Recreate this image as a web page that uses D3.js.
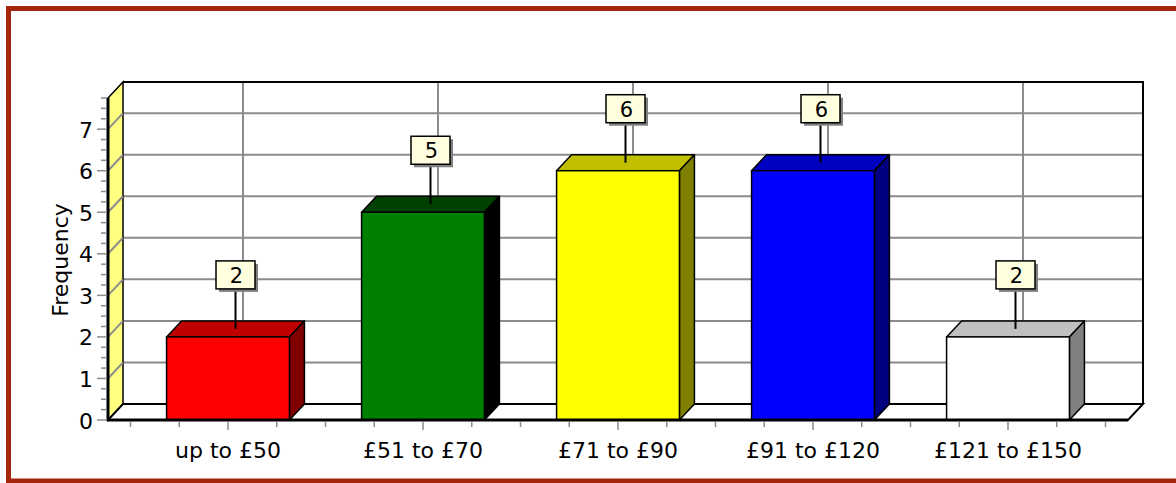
<!DOCTYPE html>
<html>
<head>
<meta charset="utf-8">
<script src="https://cdn.jsdelivr.net/npm/d3@7"></script>
<style>
  html, body { margin: 0; padding: 0; background: #fff; }
  svg { display: block; font-family: "DejaVu Sans", Verdana, sans-serif; }
</style>
</head>
<body>
<svg id="chart" width="1176" height="483"></svg>
<script>
// Price bands and how many items fall in each
const categories = ["up to £50", "£51 to £70", "£71 to £90", "£91 to £120", "£121 to £150"];
const frequencies = [2, 5, 6, 6, 2];
const frontColors = ["#ff0000", "#008000", "#ffff00", "#0000ff", "#ffffff"];
const topColors   = ["#c00000", "#004000", "#c0c000", "#0000c0", "#c0c0c0"];
const sideColors  = ["#800000", "#000000", "#808000", "#000080", "#808080"];
const yTicks = [0, 1, 2, 3, 4, 5, 6, 7];
const yMax = 7.75;
const yLabel = "Frequency";

(function draw() {
  const svg = d3.select("#chart");

  // Outer frame
  svg.append("rect")
    .attr("x", 8.5).attr("y", 8.5).attr("width", 1200).attr("height", 472.5)
    .attr("fill", "none").attr("stroke", "#a5250f").attr("stroke-width", 5);

  // Plot geometry (front plane) and 3D depth offset
  const pLeft = 108, pRight = 1128, pBottom = 420, pTop = 98;
  const dx = 15, dy = 16;

  const y = d3.scaleLinear().domain([0, yMax]).range([pBottom, pTop]);
  const x = d3.scalePoint().domain(categories).range([pLeft + 22.5, pRight - 22.5]).padding(0.5);
  const step = x.step();
  const barW = step * 0.63;

  const g = svg.append("g");
  const gray = "#8c8c8c";

  // Back wall
  g.append("rect")
    .attr("x", pLeft + dx).attr("y", pTop - dy)
    .attr("width", pRight - pLeft).attr("height", pBottom - pTop)
    .attr("fill", "#fff");

  // Horizontal grid on back wall
  g.selectAll(".hgrid").data(yTicks.filter(v => v > 0)).join("line")
    .attr("x1", pLeft + dx).attr("x2", pRight + dx)
    .attr("y1", d => y(d) - dy).attr("y2", d => y(d) - dy)
    .attr("stroke", gray).attr("stroke-width", 2);

  // Vertical grid on back wall at category centres
  g.selectAll(".vgrid").data(categories).join("line")
    .attr("x1", d => x(d) + dx).attr("x2", d => x(d) + dx)
    .attr("y1", pTop - dy).attr("y2", pBottom - dy)
    .attr("stroke", gray).attr("stroke-width", 2);

  // Back wall top and right edges
  g.append("path")
    .attr("d", `M${pLeft + dx},${pTop - dy}H${pRight + dx}V${pBottom - dy}`)
    .attr("fill", "none").attr("stroke", "#000").attr("stroke-width", 2);

  // Left side wall
  g.append("path")
    .attr("d", `M${pLeft},${pBottom}L${pLeft + dx},${pBottom - dy}V${pTop - dy}L${pLeft},${pTop}Z`)
    .attr("fill", "#ffff80").attr("stroke", "#000").attr("stroke-width", 1.5);

  // Diagonal grid on left wall
  g.selectAll(".dgrid").data(yTicks.filter(v => v > 0)).join("line")
    .attr("x1", pLeft).attr("y1", d => y(d))
    .attr("x2", pLeft + dx).attr("y2", d => y(d) - dy)
    .attr("stroke", gray).attr("stroke-width", 2);

  // Floor
  g.append("path")
    .attr("d", `M${pLeft},${pBottom}H${pRight}L${pRight + dx},${pBottom - dy}H${pLeft + dx}Z`)
    .attr("fill", "#fff").attr("stroke", "#000").attr("stroke-width", 2);

  // Bars
  const bars = g.selectAll(".bar").data(categories).join("g");
  bars.each(function (c, i) {
    const b = d3.select(this);
    const x0 = x(c) - barW / 2, x1 = x(c) + barW / 2;
    const yt = y(frequencies[i]), yb = y(0);
    b.append("path")
      .attr("d", `M${x0},${yt}L${x0 + dx},${yt - dy}H${x1 + dx}L${x1},${yt}Z`)
      .attr("fill", topColors[i]).attr("stroke", "#000").attr("stroke-width", 1.5).attr("stroke-linejoin", "round");
    b.append("path")
      .attr("d", `M${x1},${yt}L${x1 + dx},${yt - dy}V${yb - dy}L${x1},${yb}Z`)
      .attr("fill", sideColors[i]).attr("stroke", "#000").attr("stroke-width", 1.5).attr("stroke-linejoin", "round");
    b.append("rect")
      .attr("x", x0).attr("y", yt).attr("width", barW).attr("height", yb - yt)
      .attr("fill", frontColors[i]).attr("stroke", "#000").attr("stroke-width", 1.5);
  });

  // Front axis lines
  g.append("line").attr("x1", pLeft - 1).attr("x2", pRight).attr("y1", pBottom).attr("y2", pBottom)
    .attr("stroke", "#000").attr("stroke-width", 3);
  g.append("line").attr("x1", pLeft).attr("x2", pLeft).attr("y1", pTop).attr("y2", pBottom)
    .attr("stroke", "#000").attr("stroke-width", 3);

  // Y axis ticks (major every 1, minor every 0.25)
  const minorY = d3.range(0, yMax + 0.001, 0.25);
  g.selectAll(".ytick").data(minorY).join("line")
    .attr("x1", d => Number.isInteger(d) ? pLeft - 11 : pLeft - 7).attr("x2", pLeft - 1)
    .attr("y1", d => y(d)).attr("y2", d => y(d))
    .attr("stroke", gray).attr("stroke-width", 1.5);

  g.selectAll(".ylab").data(yTicks).join("text")
    .attr("x", 93).attr("y", d => y(d) + 1)
    .attr("text-anchor", "end").attr("dominant-baseline", "central")
    .attr("font-size", 22).attr("fill", "#000")
    .text(d => d);

  // X axis ticks: quarter-step marks, longer at category centres
  const xTickPos = d3.range(0, 21).map(k => ({ pos: x(categories[0]) - step / 2 + k * step / 4, major: k % 4 === 2 }));
  g.selectAll(".xtick").data(xTickPos).join("line")
    .attr("x1", d => d.pos).attr("x2", d => d.pos)
    .attr("y1", pBottom + 2).attr("y2", d => d.major ? pBottom + 10 : pBottom + 7)
    .attr("stroke", gray).attr("stroke-width", 1.5);

  g.selectAll(".xlab").data(categories).join("text")
    .attr("x", d => x(d)).attr("y", 458)
    .attr("text-anchor", "middle").attr("font-size", 22).attr("fill", "#000")
    .text(d => d);

  // Y axis title
  g.append("text")
    .attr("transform", "translate(68,260) rotate(-90)")
    .attr("text-anchor", "middle").attr("font-size", 22).attr("fill", "#000")
    .text(yLabel);

  // Value callouts
  const boxW = 39, boxH = 28;
  categories.forEach((c, i) => {
    const cx = x(c) + dx / 2;
    const tip = y(frequencies[i]) - dy / 2;
    const boxBottom = tip - 40;
    const lg = g.append("g");
    lg.append("line").attr("x1", cx).attr("x2", cx).attr("y1", boxBottom).attr("y2", tip)
      .attr("stroke", "#000").attr("stroke-width", 2);
    lg.append("rect")
      .attr("x", cx - boxW / 2 + 3).attr("y", boxBottom - boxH + 3)
      .attr("width", boxW).attr("height", boxH).attr("fill", "#808080");
    lg.append("rect")
      .attr("x", cx - boxW / 2).attr("y", boxBottom - boxH)
      .attr("width", boxW).attr("height", boxH)
      .attr("fill", "#ffffe0").attr("stroke", "#000").attr("stroke-width", 1.5);
    lg.append("text")
      .attr("x", cx + 1).attr("y", boxBottom - boxH / 2 + 1)
      .attr("text-anchor", "middle").attr("dominant-baseline", "central")
      .attr("font-size", 21).attr("fill", "#000")
      .text(frequencies[i]);
  });
})();
</script>
</body>
</html>
